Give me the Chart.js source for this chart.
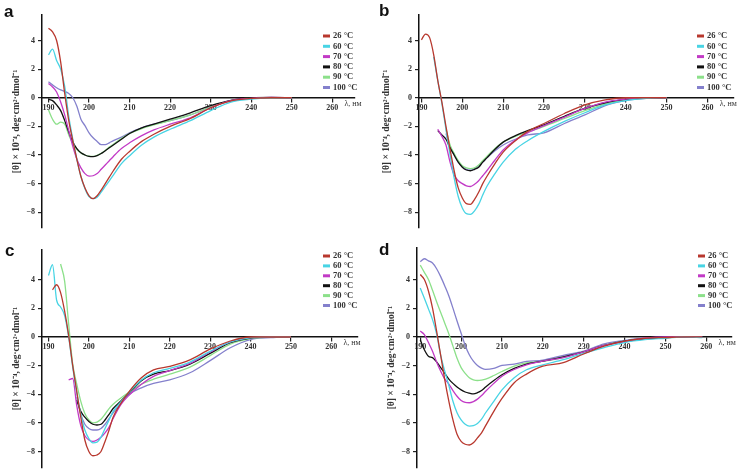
<!DOCTYPE html>
<html>
<head>
<meta charset="utf-8">
<script src="https://cdn.jsdelivr.net/npm/chart.js@4/dist/chart.umd.min.js"></script>
<style>
  body { margin: 0; background: #fff; }
  #wrap { position: relative; width: 741px; height: 475px; overflow: hidden; }
  canvas { position: absolute; }
  .tag { position: absolute; font: bold 17px 'Liberation Sans', Arial, sans-serif; line-height: 17px; color: #111; }
</style>
</head>
<body>
<div id="wrap">
  <canvas id="pa" width="370" height="237" style="left:0;top:0"></canvas>
  <canvas id="pb" width="371" height="237" style="left:370px;top:0"></canvas>
  <canvas id="pc" width="370" height="238" style="left:0;top:237px"></canvas>
  <canvas id="pd" width="371" height="238" style="left:370px;top:237px"></canvas>
  <div class="tag" style="left:4px;top:3px">a</div>
  <div class="tag" style="left:379px;top:2px">b</div>
  <div class="tag" style="left:5px;top:242px">c</div>
  <div class="tag" style="left:379px;top:241px">d</div>
</div>
<script>
// wavelength grid, nm
const wavelengths = [190, 191, 192, 193, 194, 195, 196, 197, 198, 199, 200, 201, 202, 203, 204, 205, 206, 208, 210, 213, 216, 220, 225, 230, 235, 240, 245, 250, 255, 259];
const temps = ['26 °C', '60 °C', '70 °C', '80 °C', '90 °C', '100 °C'];
const xTicks = [190, 200, 210, 220, 230, 240, 250, 260];
const yTicks = [-8, -6, -4, -2, 0, 2, 4];

// panel a
const a26 = [4.85, 4.6, 4.0, 2.5, 0.3, -1.6, -3.0, -4.3, -5.5, -6.3, -6.85, -7.05, -6.85, -6.45, -6.0, -5.55, -5.1, -4.3, -3.75, -3.05, -2.55, -2.0, -1.45, -0.7, -0.22, -0.05, 0, 0, null, null];
const a60 = [3.0, 3.4, 2.6, 2.0, 0.8, -1.3, -2.9, -4.3, -5.5, -6.35, -6.9, -7.05, -6.95, -6.6, -6.2, -5.8, -5.4, -4.6, -4.05, -3.3, -2.75, -2.2, -1.6, -0.9, -0.3, -0.1, 0, 0, null, null];
const a70 = [1.0, 0.75, 0.4, -0.3, -1.2, -2.3, -3.4, -4.3, -4.9, -5.3, -5.48, -5.45, -5.3, -5.0, -4.7, -4.4, -4.1, -3.55, -3.15, -2.65, -2.25, -1.85, -1.4, -0.7, -0.2, -0.05, 0.02, 0, null, null];
const a80 = [-0.1, -0.2, -0.5, -0.9, -1.6, -2.4, -3.1, -3.55, -3.85, -4.0, -4.1, -4.12, -4.05, -3.9, -3.7, -3.5, -3.3, -2.9, -2.5, -2.1, -1.85, -1.5, -1.05, -0.55, -0.18, 0, 0.02, 0, null, null];
const a90 = [-0.85, -1.5, -1.85, -1.7, -1.85, -2.6, -3.2, -3.6, -3.85, -4.0, -4.08, -4.1, -4.02, -3.88, -3.68, -3.45, -3.25, -2.85, -2.5, -2.15, -1.9, -1.6, -1.2, -0.65, -0.2, -0.02, 0, 0, null, null];
const a100 = [1.12, 0.9, 0.7, 0.55, 0.45, 0.3, 0.0, -0.6, -1.5, -1.95, -2.45, -2.8, -3.05, -3.28, -3.28, -3.15, -3.0, -2.75, -2.45, -2.1, -1.85, -1.6, -1.2, -0.65, -0.2, -0.05, 0, 0, null, null];

// panel b
const b26 = [4.05, 4.45, 4.2, 3.0, 1.2, -0.3, -2.0, -3.6, -5.1, -6.3, -7.0, -7.4, -7.45, -7.1, -6.6, -6.0, -5.5, -4.6, -3.8, -3.0, -2.35, -1.8, -1.1, -0.5, -0.15, 0, 0, 0, null, null];
const b60 = [null, null, null, 2.85, 1.2, -0.4, -2.2, -4.0, -5.6, -6.9, -7.7, -8.1, -8.15, -7.9, -7.45, -6.8, -6.2, -5.3, -4.5, -3.6, -3.0, -2.35, -1.65, -1.05, -0.5, -0.2, -0.05, 0, null, null];
const b70 = [null, null, null, null, -2.2, -2.7, -3.3, -4.5, -5.4, -5.8, -6.0, -6.15, -6.2, -6.05, -5.8, -5.45, -5.1, -4.35, -3.65, -2.95, -2.45, -1.95, -1.35, -0.75, -0.3, -0.1, 0, 0, null, null];
const b80 = [null, null, null, null, -2.3, -2.6, -2.9, -3.5, -4.0, -4.5, -4.85, -5.05, -5.1, -5.0, -4.85, -4.5, -4.2, -3.6, -3.1, -2.65, -2.3, -1.9, -1.3, -0.75, -0.35, -0.12, 0, 0, null, null];
const b90 = [null, null, null, null, null, null, -2.2, -3.3, -3.9, -4.4, -4.75, -4.9, -4.95, -4.9, -4.7, -4.4, -4.1, -3.55, -3.1, -2.7, -2.4, -2.0, -1.45, -0.9, -0.45, -0.15, -0.02, 0, null, null];
const b100 = [null, null, null, null, null, null, -2.5, -3.4, -4.0, -4.5, -4.8, -5.0, -5.05, -4.95, -4.75, -4.5, -4.2, -3.7, -3.3, -2.9, -2.6, -2.45, -1.8, -1.2, -0.55, -0.2, -0.05, 0, null, null];

// panel c
const c26 = [null, 3.3, 3.65, 3.1, 1.8, 0.1, -2.0, -3.8, -5.6, -7.2, -8.0, -8.3, -8.25, -8.0, -7.3, -6.5, -5.6, -4.6, -3.8, -2.85, -2.3, -2.05, -1.6, -0.85, -0.28, 0, 0, 0, null, null];
const c60 = [4.3, 5.05, 2.6, 2.1, 1.5, 0.0, -2.1, -3.9, -5.4, -6.5, -7.1, -7.4, -7.35, -7.0, -6.4, -5.8, -5.2, -4.5, -3.85, -3.0, -2.5, -2.2, -1.75, -1.0, -0.35, -0.05, 0, 0, null, null];
const c70 = [null, null, null, null, null, -3.0, -2.9, -4.8, -6.2, -6.9, -7.2, -7.3, -7.2, -7.0, -6.7, -6.3, -5.7, -4.7, -4.05, -3.3, -2.75, -2.35, -1.85, -1.05, -0.35, -0.05, 0, 0, null, null];
const c80 = [null, null, null, null, null, null, null, -4.4, -5.2, -5.6, -5.9, -6.1, -6.15, -6.1, -5.8, -5.4, -5.0, -4.45, -3.9, -3.05, -2.6, -2.35, -1.9, -1.15, -0.4, -0.07, 0, 0, null, null];
const c90 = [null, null, null, 5.1, 3.9, 0.9, -1.9, -3.3, -4.5, -5.35, -5.8, -6.0, -5.95, -5.75, -5.4, -5.0, -4.7, -4.25, -3.85, -3.3, -2.95, -2.6, -2.1, -1.3, -0.5, -0.12, 0, 0, null, null];
const c100 = [null, null, null, null, null, null, null, -4.2, -5.4, -6.1, -6.4, -6.5, -6.5, -6.4, -6.1, -5.7, -5.3, -4.6, -4.0, -3.55, -3.25, -3.0, -2.5, -1.65, -0.75, -0.18, -0.05, 0, null, null];

// panel d
const d26 = [4.35, 4.0, 3.2, 2.0, 0.4, -1.3, -3.0, -4.5, -5.8, -6.8, -7.3, -7.5, -7.55, -7.4, -7.05, -6.7, -6.2, -5.2, -4.3, -3.2, -2.6, -2.05, -1.8, -1.2, -0.65, -0.3, -0.1, -0.05, 0, 0];
const d60 = [3.4, 2.7, 1.95, 1.2, 0.2, -1.3, -2.4, -3.4, -4.5, -5.3, -5.8, -6.1, -6.23, -6.2, -6.05, -5.75, -5.3, -4.5, -3.7, -2.85, -2.3, -1.95, -1.6, -1.15, -0.75, -0.4, -0.2, -0.1, 0, -0.05];
const d70 = [0.4, 0.15, -0.4, -1.0, -1.75, -2.4, -2.95, -3.3, -3.75, -4.15, -4.45, -4.58, -4.6, -4.52, -4.35, -4.1, -3.8, -3.25, -2.75, -2.28, -1.95, -1.7, -1.45, -1.05, -0.6, -0.35, -0.1, 0, 0, 0];
const d80 = [-0.2, -0.9, -1.35, -1.45, -1.75, -2.15, -2.55, -2.95, -3.25, -3.5, -3.7, -3.85, -3.93, -3.98, -3.9, -3.75, -3.5, -3.05, -2.65, -2.2, -1.9, -1.7, -1.4, -1.05, -0.6, -0.3, -0.15, -0.05, 0, 0];
const d90 = [5.0, 4.5, 4.0, 3.25, 2.45, 1.7, 0.95, 0.2, -0.65, -1.5, -2.15, -2.55, -2.85, -3.0, -3.05, -3.02, -2.95, -2.7, -2.42, -2.05, -1.82, -1.72, -1.45, -1.05, -0.6, -0.3, -0.12, -0.05, -0.02, 0];
const d100 = [5.25, 5.45, 5.3, 5.15, 4.75, 4.2, 3.55, 2.85, 2.0, 1.1, 0.25, -0.6, -1.25, -1.7, -2.0, -2.18, -2.27, -2.2, -2.0, -1.9, -1.72, -1.62, -1.3, -1.0, -0.5, -0.25, -0.08, -0.05, 0, 0];

const colors = ['#b8382e', '#48d4e4', '#c23ac6', '#111111', '#8ce08a', '#8480cc'];
const serif = '"Liberation Serif", "Times New Roman", serif';

// per panel layout (canvas coords)
const panels = [
  { id: 'pa', series: [a26, a60, a70, a80, a90, a100], xMin: 188.4, xMax: 265.6, yMax: 5.78, axisW: 42, pad: { top: 15, bottom: 9, right: 15 }, titleOff: 11, legend: { x: 323, y: 36, step: 10.3 } },
  { id: 'pb', series: [b26, b60, b70, b80, b90, b100], xMin: 189.4, xMax: 266.5, yMax: 5.78, axisW: 49, pad: { top: 15, bottom: 9, right: 7 }, titleOff: 11, legend: { x: 327, y: 36, step: 10.3 } },
  { id: 'pc', series: [c26, c60, c70, c80, c90, c100], xMin: 188.4, xMax: 266.6, yMax: 6.08, axisW: 42, pad: { top: 13, bottom: 7, right: 12 }, titleOff: 11, legend: { x: 323, y: 19, step: 9.9 } },
  { id: 'pd', series: [d26, d60, d70, d80, d90, d100], xMin: 189.2, xMax: 266.3, yMax: 6.2, axisW: 47, pad: { top: 11, bottom: 7, right: 9 }, titleOff: 16, legend: { x: 328, y: 19, step: 9.9 } },
];

const cdExtras = {
  id: 'cdExtras',
  afterDraw(chart, args, opts) {
    const ctx = chart.ctx;
    ctx.save();
    ctx.font = 'bold 8.5px ' + serif;
    ctx.textBaseline = 'middle';
    chart.data.datasets.forEach((ds, i) => {
      const y = opts.y + i * opts.step;
      ctx.strokeStyle = ds.borderColor;
      ctx.lineWidth = 3;
      ctx.beginPath();
      ctx.moveTo(opts.x, y);
      ctx.lineTo(opts.x + 7, y);
      ctx.stroke();
      ctx.fillStyle = '#333';
      ctx.fillText(ds.label, opts.x + 10, y);
    });
    const xs = chart.scales.x;
    const ys = chart.scales.y;
    ctx.textBaseline = 'alphabetic';
    ctx.font = '8px ' + serif;
    ctx.fillText('λ, нм', xs.getPixelForValue(263), ys.getPixelForValue(0) + 8);
    ctx.restore();
  }
};

panels.forEach(p => {
  const datasets = p.series.map((s, k) => ({
    label: temps[k],
    data: wavelengths.map((w, i) => ({ x: w, y: s[i] })),
    borderColor: colors[k],
    borderWidth: 1.3,
    pointRadius: 0,
    cubicInterpolationMode: 'monotone',
    fill: false,
  }));

  new Chart(document.getElementById(p.id), {
    type: 'line',
    data: { datasets },
    options: {
      responsive: false,
      animation: false,
      layout: { padding: { top: p.pad.top, bottom: p.pad.bottom, right: p.pad.right, left: 0 } },
      plugins: {
        legend: { display: false },
        tooltip: { enabled: false },
        cdExtras: p.legend,
      },
      scales: {
        x: {
          type: 'linear',
          position: { y: 0 },
          min: p.xMin,
          max: p.xMax,
          afterBuildTicks: s => { s.ticks = xTicks.map(v => ({ value: v })); },
          grid: { drawOnChartArea: false, tickLength: 4, color: '#222', lineWidth: 1.2 },
          border: { color: '#111', width: 1.5 },
          ticks: { color: '#333', padding: 1, font: { family: serif, size: 8, weight: 'bold' } },
        },
        y: {
          type: 'linear',
          min: -9.1,
          max: p.yMax,
          afterBuildTicks: s => { s.ticks = yTicks.map(v => ({ value: v })); },
          afterFit: s => { s.width = p.axisW; },
          grid: { drawOnChartArea: false, tickLength: 4, color: '#222', lineWidth: 1.2 },
          border: { color: '#111', width: 1.5 },
          ticks: {
            color: '#333',
            padding: 3,
            font: { family: serif, size: 8, weight: 'bold' },
            callback: v => (v < 0 ? '\u2212' + Math.abs(v) : String(v)),
          },
          title: {
            display: true,
            text: '[θ] × 10⁻⁴, deg·cm²·dmol⁻¹',
            color: '#333',
            padding: { top: p.titleOff, bottom: 0 },
            font: { family: serif, size: 9.5, weight: 'bold' },
          },
        },
      },
    },
    plugins: [cdExtras],
  });
});
</script>
</body>
</html>
